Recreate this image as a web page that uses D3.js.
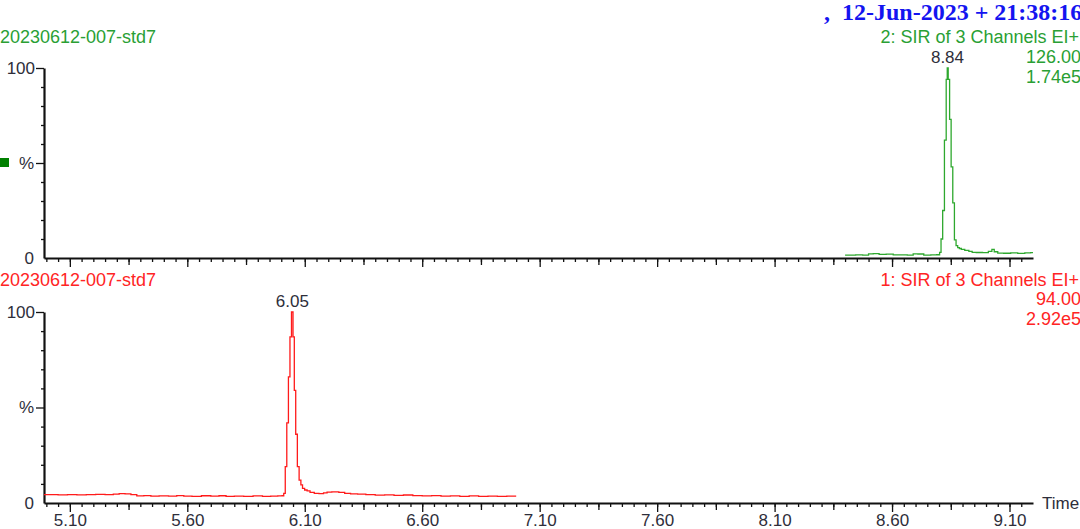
<!DOCTYPE html>
<html>
<head>
<meta charset="utf-8">
<script src="https://cdn.jsdelivr.net/npm/d3@7"></script>
<style>
  html, body { margin: 0; padding: 0; background: #fff; }
  svg { display: block; font-family: "Liberation Sans", Arial, sans-serif; }
</style>
</head>
<body>
<svg id="chart" width="1080" height="529"></svg>
<script>
// ---------------- DATA ----------------
const titleText = ",  12-Jun-2023 + 21:38:16";
const sampleName = "20230612-007-std7";

// Channel 2 (top, green)
const ch2Title = "2: SIR of 3 Channels EI+";
const ch2Mass = "126.00";
const ch2Intensity = "1.74e5";
const ch2PeakLabel = "8.84";
const ch2PeakTime = 8.836;
const ch2Time = [8.40, 8.43, 8.46, 8.49, 8.51, 8.53, 8.56, 8.59, 8.62, 8.65, 8.68, 8.70, 8.72, 8.75, 8.78, 8.80,
  8.805, 8.812, 8.819, 8.827, 8.834, 8.836, 8.842, 8.848, 8.855, 8.862, 8.869, 8.876, 8.883, 8.890,
  8.90, 8.919, 8.935, 8.947, 8.97, 9.00, 9.02, 9.03, 9.04, 9.06, 9.09, 9.12, 9.15, 9.18, 9.20];
const ch2Value = [1.5, 1.5, 1.6, 1.5, 2.2, 2.3, 1.9, 2.0, 1.6, 1.6, 1.5, 2.2, 2.1, 1.5, 1.6, 1.7,
  3, 10, 25, 62, 94, 100, 94, 73, 48, 29, 9.5, 6.5, 5.5, 5.0,
  4.5, 4.0, 3.5, 3.0, 2.9, 2.8, 3.5, 4.5, 3.3, 2.6, 2.5, 2.7, 2.4, 2.7, 2.8];

// Channel 1 (bottom, red)
const ch1Title = "1: SIR of 3 Channels EI+";
const ch1Mass = "94.00";
const ch1Intensity = "2.92e5";
const ch1PeakLabel = "6.05";
const ch1PeakTime = 6.047;
const ch1Time = [4.99, 5.03, 5.07, 5.11, 5.15, 5.19, 5.23, 5.27, 5.30, 5.32, 5.35, 5.37, 5.40, 5.43, 5.46, 5.50,
  5.54, 5.57, 5.60, 5.64, 5.68, 5.72, 5.75, 5.78, 5.82, 5.86, 5.90, 5.94, 5.97, 6.000, 6.007, 6.014,
  6.020, 6.027, 6.034, 6.040, 6.047, 6.053, 6.058, 6.065, 6.072, 6.080, 6.087, 6.094, 6.105, 6.115,
  6.13, 6.151, 6.17, 6.19, 6.20, 6.23, 6.26, 6.28, 6.31, 6.34, 6.38, 6.42, 6.46, 6.50, 6.54, 6.58,
  6.62, 6.66, 6.70, 6.74, 6.78, 6.82, 6.86, 6.90, 6.94, 6.98, 7.00];
const ch1Value = [4.4, 4.4, 4.3, 4.4, 4.3, 4.4, 4.5, 4.4, 4.6, 4.9, 4.8, 4.4, 3.7, 3.9, 3.6, 3.7,
  3.6, 3.9, 3.6, 3.5, 3.8, 3.6, 3.8, 3.5, 3.6, 3.5, 3.7, 3.5, 3.6, 3.7, 3.8, 5.0,
  19, 42, 66, 87, 100, 87, 59, 36, 19, 12, 9.5, 7.7, 6.8, 6.4,
  5.6, 5.0, 4.9, 5.3, 5.7, 5.8, 5.6, 5.0, 4.8, 4.6, 4.4, 4.1, 4.3, 4.0, 4.2, 3.9,
  3.7, 3.9, 3.6, 3.7, 3.5, 3.7, 3.5, 3.6, 3.5, 3.6, 3.6];

// Axis ticks
const xDomain = [4.99, 9.20];
const xLabelTicks = [5.10, 5.60, 6.10, 6.60, 7.10, 7.60, 8.10, 8.60, 9.10];
const xMidTicks = [5.35, 5.85, 6.35, 6.85, 7.35, 7.85, 8.35, 8.85];
const yMinorTicks = [10, 20, 30, 40, 60, 70, 80, 90];
const yLabels = [[0, "0"], [50, "%"], [100, "100"]];
const xAxisTitle = "Time";

// ---------------- STYLES ----------------
const green = "#2a9f34";
const greenLine = "#2ea82e";
const red = "#ff2424";
const redLine = "#ff1a1a";
const dark = "#2e2e3a";
const fs = 17;
const hfs = 18;

const svg = d3.select("#chart");

const x = d3.scaleLinear().domain(xDomain).range([44, 1033]);
const minorX = d3.range(5.00, 9.151, 0.05).map(v => +v.toFixed(2));

function panel(top, bottom, times, values, lineColor, showLabels) {
  const y = d3.scaleLinear().domain([0, 100]).range([bottom, top]);
  const g = svg.append("g");

  g.append("g").attr("transform", `translate(0,${bottom})`)
    .call(d3.axisBottom(x).tickValues(minorX).tickSize(4).tickSizeOuter(0).tickFormat(""))
    .call(a => a.select(".domain").remove());
  g.append("g").attr("transform", `translate(0,${bottom})`)
    .call(d3.axisBottom(x).tickValues(xMidTicks).tickSize(7).tickSizeOuter(0).tickFormat(""))
    .call(a => a.select(".domain").remove());
  const xa = g.append("g").attr("transform", `translate(0,${bottom})`)
    .call(d3.axisBottom(x).tickValues(xLabelTicks).tickSize(9).tickSizeOuter(0)
      .tickFormat(showLabels ? d3.format(".2f") : ""));
  xa.select(".domain").attr("stroke-width", 2.2).attr("stroke", "#111");
  g.selectAll(".tick line").attr("stroke", "#111").attr("stroke-width", 1.3);
  xa.selectAll(".tick text").attr("y", 11).attr("dy", "0.71em")
    .attr("fill", dark)
    .style("font-size", fs + "px")
    .style("font-family", '"Liberation Sans", Arial, sans-serif');

  const ya = g.append("g").attr("transform", "translate(44,0)")
    .call(d3.axisLeft(y).tickValues(yMinorTicks).tickSize(3).tickSizeOuter(0).tickFormat(""));
  ya.select(".domain").remove();
  ya.selectAll(".tick line").attr("stroke", "#111").attr("stroke-width", 1.3);
  const yb = g.append("g").attr("transform", "translate(44,0)")
    .call(d3.axisLeft(y).tickValues([50, 100]).tickSize(8).tickSizeOuter(0).tickFormat(""));
  yb.select(".domain").attr("stroke-width", 2.2).attr("stroke", "#111");
  yb.selectAll(".tick line").attr("stroke", "#111").attr("stroke-width", 1.3);

  g.selectAll(".ylab").data(yLabels).join("text")
    .attr("x", d => d[1] === "100" ? 35 : 34)
    .attr("y", d => y(d[0]))
    .attr("dy", "0.35em")
    .attr("text-anchor", "end")
    .style("font-size", fs + "px")
    .attr("fill", dark)
    .text(d => d[1]);

  const line = d3.line().x((d, i) => x(times[i])).y(d => y(d)).curve(d3.curveStep);
  g.append("path").datum(values).attr("d", line)
    .attr("fill", "none").attr("stroke", lineColor).attr("stroke-width", 1.3);
  return y;
}

const yTop = panel(68, 258, ch2Time, ch2Value, greenLine, false);
const yBot = panel(312, 503, ch1Time, ch1Value, redLine, true);

function txt(xp, yp, s, color, anchor, size) {
  return svg.append("text").attr("x", xp).attr("y", yp)
    .attr("text-anchor", anchor || "start")
    .attr("fill", color)
    .style("font-size", (size || fs) + "px")
    .text(s);
}

// title
svg.append("text").attr("x", 824).attr("y", 20)
  .style("font-family", '"Liberation Serif", "Times New Roman", serif')
  .style("font-weight", "bold").style("font-size", "24px")
  .style("white-space", "pre")
  .attr("fill", "#1414f0")
  .text(titleText);

// top panel header
txt(0, 43, sampleName, green, "start", hfs);
txt(1079, 43, ch2Title, green, "end", hfs);
txt(1081, 63, ch2Mass, green, "end", hfs);
txt(1081, 83, ch2Intensity, green, "end", hfs);
txt(x(ch2PeakTime), yTop(100) - 5, ch2PeakLabel, dark, "middle", fs);
svg.append("rect").attr("x", 0).attr("y", 158).attr("width", 9).attr("height", 9).attr("fill", "#008000");

// bottom panel header
txt(0, 286, sampleName, red, "start", hfs);
txt(1079, 286, ch1Title, red, "end", hfs);
txt(1081, 305, ch1Mass, red, "end", hfs);
txt(1081, 325, ch1Intensity, red, "end", hfs);
txt(x(ch1PeakTime), yBot(100) - 5, ch1PeakLabel, dark, "middle", fs);

// x axis title
txt(1042, 509, xAxisTitle, dark, "start", fs);
</script>
</body>
</html>
